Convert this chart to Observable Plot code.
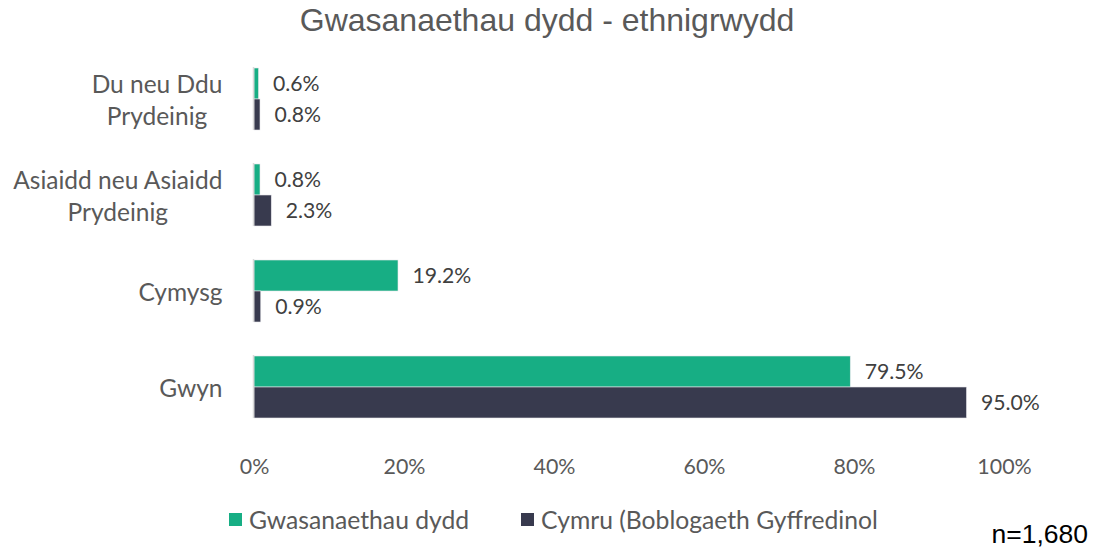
<!DOCTYPE html>
<html>
<head>
<meta charset="utf-8">
<script src="https://cdn.jsdelivr.net/npm/d3@7"></script>
<script src="https://cdn.jsdelivr.net/npm/@observablehq/plot@0.6"></script>
<style>
  html, body { margin: 0; padding: 0; background: #fff; }
  #wrap { position: relative; width: 1094px; height: 548px; overflow: hidden; }
  #title { position: absolute; left: 0; top: 0px; width: 1094px; text-align: center; line-height: 40px;
    font-family: "Liberation Sans", Arial, sans-serif; font-size: 32px; color: #595959; }
  #chart { position: absolute; left: 0; top: 0; }
  #legend { position: absolute; left: 229px; top: 503px; height: 32px; font-family: Lato, "Open Sans", sans-serif;
    font-size: 24.7px; color: #595959; display: flex; align-items: center; }
  .item { display: flex; align-items: center; margin-right: 52px; }
  .sw { width: 13px; height: 13px; margin-right: 7px; display: inline-block; }
  #note { position: absolute; right: 6px; top: 517px; line-height: 34px; font-family: "Liberation Sans", Arial, sans-serif;
    font-size: 26.5px; color: #000; }
</style>
</head>
<body>
<div id="wrap">
  <div id="chart"></div>
  <div id="title"></div>
  <div id="legend"></div>
  <div id="note"></div>
</div>
<script>
const titleText = "Gwasanaethau dydd - ethnigrwydd";
const noteText = "n=1,680";
const categories = ["Du neu Ddu\nPrydeinig", "Asiaidd neu Asiaidd\nPrydeinig", "Cymysg", "Gwyn"];
const seriesNames = ["Gwasanaethau dydd", "Cymru (Boblogaeth Gyffredinol"];
const seriesColors = ["#17AE84", "#383A4E"];
const dayServices = [0.6, 0.8, 19.2, 79.5];
const wales = [0.8, 2.3, 0.9, 95.0];
const xTicks = [0, 20, 40, 60, 80, 100];

const rows = [];
categories.forEach((c, i) => {
  rows.push({cat: c, series: seriesNames[0], value: dayServices[i]});
  rows.push({cat: c, series: seriesNames[1], value: wales[i]});
});

document.getElementById("title").textContent = titleText;
document.getElementById("note").textContent = noteText;
const leg = document.getElementById("legend");
seriesNames.forEach((s, i) => {
  const it = document.createElement("span");
  it.className = "item";
  const sw = document.createElement("span");
  sw.className = "sw";
  sw.style.background = seriesColors[i];
  it.appendChild(sw);
  it.appendChild(document.createTextNode(s));
  leg.appendChild(it);
});

const chart = Plot.plot({
  width: 1094,
  height: 548,
  marginLeft: 254,
  marginRight: 90,
  marginTop: 51,
  marginBottom: 113,
  style: {fontFamily: "Lato, 'Open Sans', sans-serif", background: "transparent"},
  x: {domain: [0, 100], ticks: xTicks, tickFormat: d => d + "%", label: null},
  fy: {domain: categories, paddingInner: 0.34, paddingOuter: 0.17, label: null},
  y: {domain: seriesNames, padding: 0, axis: null},
  color: {domain: seriesNames, range: seriesColors},
  marks: [
    Plot.barX(rows, {fy: "cat", y: "series", x: "value", fill: "series", stroke: "#e6e6ec", strokeWidth: 0.6}),
    Plot.text(rows, {fy: "cat", y: "series", x: "value", text: d => d.value.toFixed(1) + "%",
      textAnchor: "start", dx: 14, fontSize: 21.2, fill: "#404040"}),
    Plot.axisX({ticks: xTicks, tickFormat: d => d + "%", tickSize: 0, tickPadding: 40, fontSize: 21.4,
      fill: "#595959", label: null}),
    Plot.axisFy({anchor: "left", tickSize: 0, tickPadding: 32, fontSize: 24.5, fill: "#595959", label: null,
      lineHeight: 1.27, textAnchor: "end"}),
    Plot.ruleX([0], {stroke: "#d9d9d9", strokeWidth: 1.5, dx: -1})
  ]
});
document.getElementById("chart").appendChild(chart);

// Centre the wrapped lines of multi-line category labels within their block (right edge kept)
chart.querySelectorAll("text").forEach(t => {
  const spans = t.querySelectorAll("tspan");
  const anchor = t.getAttribute("text-anchor") || getComputedStyle(t).textAnchor;
  if (spans.length > 1 && anchor === "end") {
    const w = t.getBBox().width;
    t.setAttribute("text-anchor", "middle");
    t.style.textAnchor = "middle";
    spans.forEach(s => s.setAttribute("x", -w / 2));
  }
});
</script>
</body>
</html>
